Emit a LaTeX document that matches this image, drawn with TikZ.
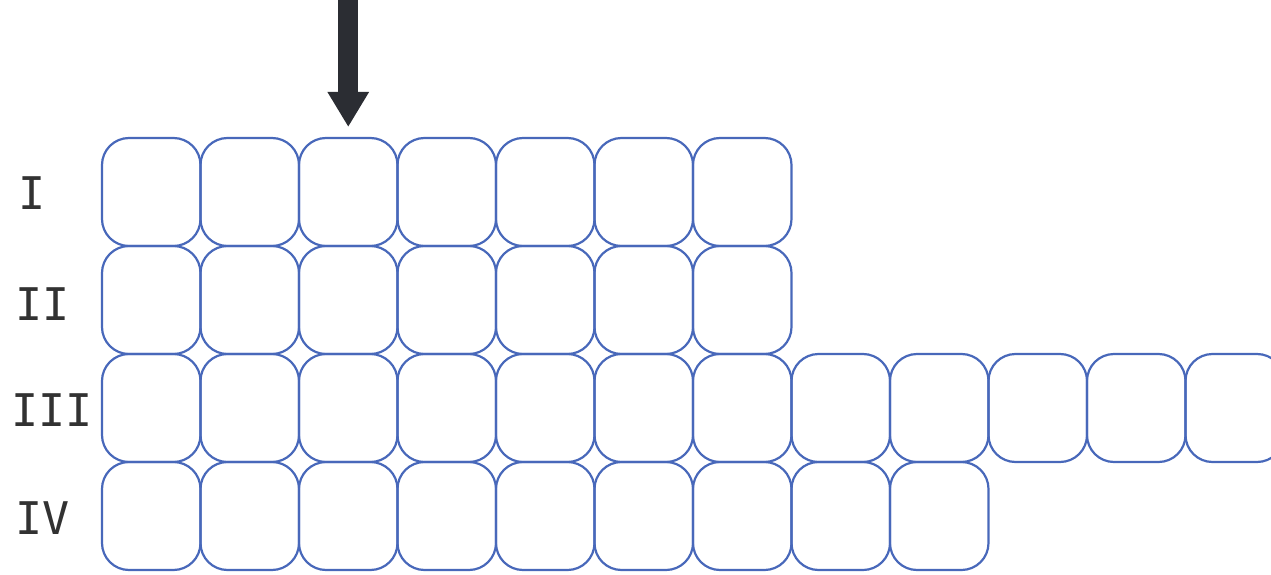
\documentclass[tikz,border=0pt]{standalone}
\usepackage{fontspec}
\newfontfamily\monofont{DejaVu Sans Mono}
\usetikzlibrary{arrows.meta}
\definecolor{cellblue}{RGB}{72,104,186}
\definecolor{arrowdark}{RGB}{43,45,51}
\definecolor{labelgray}{RGB}{50,50,50}
\tikzset{
  cell/.style={draw=cellblue, line width=2.2pt, rectangle, rounded corners=27pt,
    minimum width=98.5pt, minimum height=108pt, inner sep=0pt, outer sep=0pt},
  rowlabel/.style={font=\monofont\fontsize{45}{45}\selectfont, text=labelgray, inner sep=0pt},
  bigarrow/.style={draw=arrowdark, line width=20pt, -{Triangle[width=39pt,length=35pt]}}
}
\begin{document}
\begin{tikzpicture}[x=1pt,y=-1pt]
\useasboundingbox (0,0) rectangle (1271,575);
\begin{scope}
\clip (0,0) rectangle (1271,575);
% row I
\foreach \c in {0,...,6} {\node[cell] (b1\c) at ({151.25+98.5*\c},192) {};}
% row II
\foreach \c in {0,...,6} {\node[cell] (b2\c) at ({151.25+98.5*\c},300) {};}
% row III
\foreach \c in {0,...,11} {\node[cell] (b3\c) at ({151.25+98.5*\c},408) {};}
% row IV
\foreach \c in {0,...,8} {\node[cell] (b4\c) at ({151.25+98.5*\c},516) {};}
\end{scope}
\node[rowlabel] (l1) at (32,193) {I};
\node[rowlabel] (l2) at (43,304) {II};
\node[rowlabel] (l3) at (52,410) {III};
\node[rowlabel] (l4) at (43,518) {IV};
\coordinate (atop) at (348.25,0);
\draw[bigarrow] (atop) -- ([yshift=11pt]b12.north);
\end{tikzpicture}
\end{document}
